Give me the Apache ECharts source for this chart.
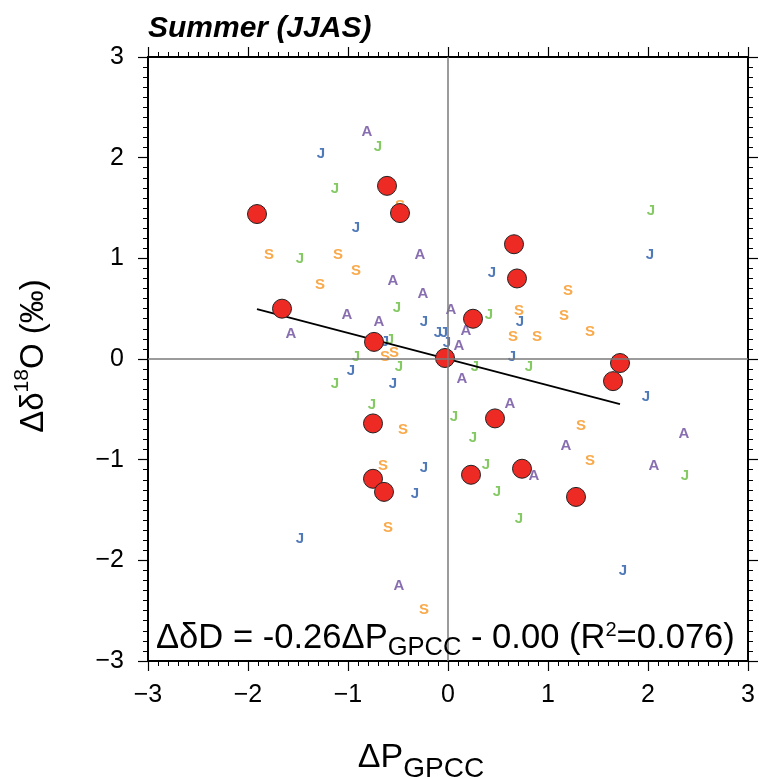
<!DOCTYPE html>
<html><head><meta charset="utf-8">
<script src="https://cdn.jsdelivr.net/npm/echarts@6/dist/echarts.min.js"></script>
<style>html,body{margin:0;padding:0;background:#fff}#c{width:759px;height:779px}</style>
</head><body><div id="c"></div>
<script>
// Monthly anomalies (June = blue J, July = green J, August = A, September = S)
const juneJ = [[-1.27,2.04],[-0.92,1.30],[-0.24,0.37],[-0.10,0.26],[-0.04,0.26],[-0.63,0.17],[-0.01,0.16],[2.02,1.03],[0.44,0.86],[0.72,0.37],[0.64,0.02],[-0.97,-0.12],[-0.55,-0.25],[-0.24,-1.08],[-0.33,-1.34],[-1.48,-1.79],[1.98,-0.38],[1.75,-2.10]];
const julyJ = [[-0.70,2.11],[-1.13,1.69],[-1.48,0.99],[-0.51,0.51],[-0.58,0.19],[-0.92,0.02],[2.03,1.47],[0.41,0.44],[0.27,-0.08],[0.81,-0.08],[-0.49,-0.08],[-1.13,-0.25],[-0.76,-0.46],[0.06,-0.57],[0.25,-0.78],[2.37,-1.16],[0.38,-1.05],[0.49,-1.32],[0.71,-1.59]];
const augA = [[-0.81,2.26],[-0.28,1.03],[-0.55,0.78],[-0.25,0.65],[-1.01,0.44],[-0.69,0.37],[-1.57,0.25],[0.03,0.49],[0.18,0.28],[0.11,0.13],[0.14,-0.20],[0.62,-0.45],[2.36,-0.74],[1.18,-0.86],[2.06,-1.06],[0.86,-1.16],[-0.49,-2.25]];
const septS = [[-0.48,1.52],[-1.79,1.03],[-1.10,1.03],[-0.92,0.88],[-1.28,0.74],[-0.63,0.02],[-0.54,0.06],[1.20,0.68],[0.71,0.48],[1.16,0.43],[1.42,0.27],[0.65,0.22],[0.89,0.22],[-0.45,-0.70],[-0.65,-1.06],[-0.60,-1.68],[-0.24,-2.49],[1.33,-0.66],[1.42,-1.01]];
// Seasonal (JJAS) means - red circles
const seasonal = [[-1.91,1.44],[-1.66,0.50],[-0.61,1.72],[-0.48,1.45],[-0.74,0.17],[-0.03,0.01],[0.66,1.14],[0.69,0.80],[0.25,0.40],[1.72,-0.04],[1.65,-0.22],[0.47,-0.59],[-0.75,-0.64],[-0.75,-1.19],[-0.64,-1.32],[0.23,-1.15],[0.74,-1.09],[1.28,-1.37]];
const slope = -0.26, intercept = 0.00, r2 = 0.076;
const tickValues = [-3,-2,-1,0,1,2,3];

const FONT = 'Liberation Sans, Arial, Helvetica, sans-serif';
const xs = seasonal.map(p => p[0]);
const xMin = Math.min(...xs), xMax = Math.max(...xs);
const fitLine = [[xMin, slope*xMin+intercept],[xMax, slope*xMax+intercept]];

function fmt(v){ return v < 0 ? '\u2212' + Math.abs(v) : String(v); }
function axisBase(pos, showLabel){
  return {
    type:'value', min:tickValues[0], max:tickValues[tickValues.length-1], interval:1, position:pos,
    axisLine:{show:true, onZero:false, lineStyle:{color:'#000', width:2}},
    axisTick:{show:true, inside:false, length:10, lineStyle:{color:'#000', width:1.2}},
    minorTick:{show:true, splitNumber:10, length:5, lineStyle:{color:'#000', width:1}},
    splitLine:{show:false}, minorSplitLine:{show:false},
    axisLabel:{show:showLabel, fontSize:25, color:'#000', fontFamily:FONT, formatter:fmt, margin: pos==='bottom'?22:24}
  };
}
function letterSeries(data, letter, color){
  return {type:'scatter', data:data, symbolSize:1, itemStyle:{color:'rgba(0,0,0,0)'}, z:2, silent:true,
    label:{show:true, position:'inside', formatter:letter, color:color, fontSize:15, fontWeight:'bold', fontFamily:FONT}};
}
const chart = echarts.init(document.getElementById('c'), null, {renderer:'canvas'});
chart.setOption({
  animation:false,
  backgroundColor:'#fff',
  title:{text:'Summer (JJAS)', left:143, top:9, textStyle:{fontSize:30, fontWeight:'bold', fontStyle:'italic', color:'#000', fontFamily:FONT}},
  grid:{left:148, right:11, top:57, bottom:118, containLabel:false},
  xAxis:[axisBase('bottom', true), axisBase('top', false)],
  yAxis:[axisBase('left', true), axisBase('right', false)],
  graphic:[
    {type:'text', x:30, y:356, rotation:Math.PI/2, z:10,
      style:{text:'{a|\u0394\u03b4}{s|18}{a|O (\u2030)}', align:'center', verticalAlign:'middle', fill:'#000',
        rich:{a:{fontSize:33, fontFamily:FONT, lineHeight:40, verticalAlign:'bottom'}, s:{fontSize:21, fontFamily:FONT, lineHeight:40, verticalAlign:'top', padding:[2,0,0,0]}}}},
    {type:'text', x:421, y:762, z:10,
      style:{text:'{a|\u0394P}{b|GPCC}', align:'center', verticalAlign:'middle', fill:'#000',
        rich:{a:{fontSize:34, fontFamily:FONT, lineHeight:42, verticalAlign:'top'}, b:{fontSize:28, fontFamily:FONT, lineHeight:42, verticalAlign:'bottom'}}}},
    {type:'text', x:156, y:638, z:10,
      style:{text:'{a|\u0394\u03b4D = ' + slope.toFixed(2) + '\u0394P}{b|GPCC}{a| - ' + Math.abs(intercept).toFixed(2) + ' (R}{c|2}{a|=' + r2.toFixed(3) + ')}',
        align:'left', verticalAlign:'middle', fill:'#000',
        rich:{a:{fontSize:34.6, fontFamily:FONT, lineHeight:46, verticalAlign:'middle'}, b:{fontSize:25.5, fontFamily:FONT, lineHeight:46, verticalAlign:'bottom'}, c:{fontSize:20, fontFamily:FONT, lineHeight:46, verticalAlign:'top', padding:[5,0,0,0]}}}}
  ],
  series:[
    {type:'line', data:[], silent:true, z:1,
      markLine:{silent:true, symbol:['none','none'], label:{show:false}, lineStyle:{color:'#7a7a7a', width:1.5, type:'solid'},
        data:[{xAxis:0},{yAxis:0}]}},
    letterSeries(juneJ, 'J', '#2457a6'),
    letterSeries(julyJ, 'J', '#66bb3f'),
    letterSeries(augA, 'A', '#6a4a9c'),
    letterSeries(septS, 'S', '#f7941d'),
    {type:'line', data:fitLine, symbol:'none', silent:true, z:3, lineStyle:{color:'#000', width:1.8}},
    {type:'scatter', data:seasonal, symbol:'circle', symbolSize:19, z:4, silent:true,
      itemStyle:{color:'#ee2a24', borderColor:'#222', borderWidth:1, opacity:1}}
  ]
});
</script></body></html>
